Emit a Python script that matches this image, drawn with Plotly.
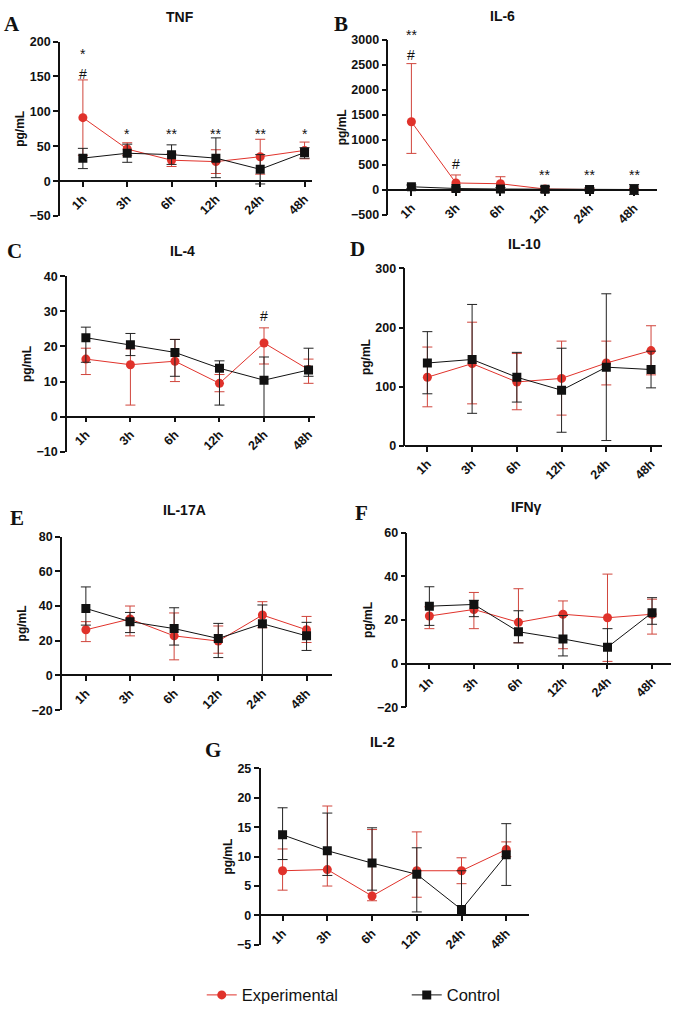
import plotly.graph_objects as go

W, H = 678, 1015
times = ["1h", "3h", "6h", "12h", "24h", "48h"]

# ---- data (mean, upper bound, lower bound of error bars) ----
tnf_exp = [91, 46, 30, 28, 35, 44]
tnf_exp_hi = [145, 55, 39, 45, 60, 56]
tnf_exp_lo = [37, 37, 21, 11, 10, 32]
tnf_ctl = [33, 40, 38, 33, 17, 41]
tnf_ctl_hi = [47, 53, 52, 62, 38, 48]
tnf_ctl_lo = [18, 27, 24, 5, -4, 33]

il6_exp = [1360, 140, 125, 20, 10, 10]
il6_exp_hi = [2520, 300, 265, 60, 30, 30]
il6_exp_lo = [730, -20, -15, -20, -10, -10]
il6_ctl = [65, 30, 20, 15, 10, 10]
il6_ctl_hi = [100, 60, 50, 75, 45, 110]
il6_ctl_lo = [30, 0, -10, -45, -25, -90]

il4_exp = [16.4, 14.8, 15.8, 9.5, 21.0, 13.4]
il4_exp_hi = [19.5, 19.3, 22.0, 12.0, 25.3, 16.4]
il4_exp_lo = [12.0, 3.3, 10.0, 7.1, 15.0, 9.5]
il4_ctl = [22.5, 20.5, 18.3, 13.8, 10.4, 13.3]
il4_ctl_hi = [25.5, 23.7, 22.0, 15.9, 17.0, 19.5]
il4_ctl_lo = [15.5, 17.4, 11.5, 3.3, 0.0, 11.5]

il10_exp = [116, 139, 108, 114, 140, 161]
il10_exp_hi = [167, 209, 156, 177, 177, 203]
il10_exp_lo = [66, 71, 61, 52, 103, 120]
il10_ctl = [140, 146, 116, 94, 133, 129]
il10_ctl_hi = [193, 239, 158, 165, 257, 160]
il10_ctl_lo = [88, 55, 74, 23, 9, 98]

il17_exp = [26.3, 32.5, 22.8, 19.8, 34.8, 26.3]
il17_exp_hi = [31.0, 40.0, 36.0, 28.5, 42.5, 34.0]
il17_exp_lo = [19.5, 22.8, 9.0, 12.8, 27.5, 19.0]
il17_ctl = [38.6, 31.0, 27.0, 21.3, 29.8, 22.8]
il17_ctl_hi = [51.0, 36.3, 39.0, 30.0, 40.6, 30.6]
il17_ctl_lo = [29.0, 24.7, 17.5, 10.3, 0.0, 14.4]

ifn_exp = [21.8, 24.8, 18.9, 22.6, 21.0, 22.6]
ifn_exp_hi = [26.0, 32.6, 34.3, 28.7, 41.0, 29.5]
ifn_exp_lo = [16.0, 16.0, 9.5, 6.8, 1.0, 13.5]
ifn_ctl = [26.3, 27.1, 14.6, 11.3, 7.5, 23.3]
ifn_ctl_hi = [35.2, 29.0, 24.2, 22.0, 16.0, 30.2]
ifn_ctl_lo = [17.5, 21.5, 9.5, 3.5, 0.0, 18.0]

il2_exp = [7.6, 7.8, 3.3, 7.6, 7.6, 11.2]
il2_exp_hi = [11.3, 18.6, 14.6, 14.2, 9.8, 12.5]
il2_exp_lo = [4.3, 5.0, 2.5, 3.1, 5.4, 10.0]
il2_ctl = [13.7, 11.0, 8.9, 7.0, 1.0, 10.3]
il2_ctl_hi = [18.3, 17.4, 14.9, 11.5, 7.6, 15.6]
il2_ctl_lo = [9.5, 6.8, 4.3, 0.6, 0.0, 5.1]

# significance marks: (time, y, text, vertical anchor)
tnf_marks = [("1h", 168, "*", "bottom"), ("1h", 168, "#", "top"), ("3h", 68, "*", "middle"),
             ("6h", 68, "**", "middle"), ("12h", 68, "**", "middle"), ("24h", 68, "**", "middle"),
             ("48h", 68, "*", "middle")]
il6_marks = [("1h", 2890, "**", "bottom"), ("1h", 2890, "#", "top"), ("3h", 515, "#", "middle"),
             ("12h", 300, "**", "middle"), ("24h", 300, "**", "middle"), ("48h", 300, "**", "middle")]
il4_marks = [("24h", 28.7, "#", "middle")]

RED = "#e0322b"
RED_ERR = "#d0453c"
BLK = "#111111"

panels = [
    dict(letter="A", title="TNF", exp=(tnf_exp, tnf_exp_hi, tnf_exp_lo), ctl=(tnf_ctl, tnf_ctl_hi, tnf_ctl_lo),
         marks=tnf_marks, yr=[-50, 200], dt=50, geo=(60, 312, 35, 212, 83, 305),
         tpos=(180, 10), lpos=(12, 17)),
    dict(letter="B", title="IL-6", exp=(il6_exp, il6_exp_hi, il6_exp_lo), ctl=(il6_ctl, il6_ctl_hi, il6_ctl_lo),
         marks=il6_marks, yr=[-500, 3000], dt=500, geo=(389, 658, 33, 211, 412, 635),
         tpos=(503, 9), lpos=(342, 17)),
    dict(letter="C", title="IL-4", exp=(il4_exp, il4_exp_hi, il4_exp_lo), ctl=(il4_ctl, il4_ctl_hi, il4_ctl_lo),
         marks=il4_marks, yr=[-10, 40], dt=10, geo=(67, 315, 273, 451, 86, 309),
         tpos=(183, 247), lpos=(15, 247)),
    dict(letter="D", title="IL-10", exp=(il10_exp, il10_exp_hi, il10_exp_lo), ctl=(il10_ctl, il10_ctl_hi, il10_ctl_lo),
         marks=[], yr=[0, 300], dt=100, geo=(406, 663, 265, 445, 428, 652),
         tpos=(525, 240), lpos=(358, 245)),
    dict(letter="E", title="IL-17A", exp=(il17_exp, il17_exp_hi, il17_exp_lo), ctl=(il17_ctl, il17_ctl_hi, il17_ctl_lo),
         marks=[], yr=[-20, 80], dt=20, geo=(62, 332, 537, 713, 86, 307),
         tpos=(185, 510), lpos=(17, 518)),
    dict(letter="F", title="IFNγ", exp=(ifn_exp, ifn_exp_hi, ifn_exp_lo), ctl=(ifn_ctl, ifn_ctl_hi, ifn_ctl_lo),
         marks=[], yr=[-20, 60], dt=20, geo=(408, 672, 533, 710, 430, 653),
         tpos=(527, 507), lpos=(362, 513)),
    dict(letter="G", title="IL-2", exp=(il2_exp, il2_exp_hi, il2_exp_lo), ctl=(il2_ctl, il2_ctl_hi, il2_ctl_lo),
         marks=[], yr=[-5, 25], dt=5, geo=(261, 530, 772, 951, 283, 507),
         tpos=(383, 745), lpos=(213, 753)),
]

fig = go.Figure()
layout = dict(
    width=W, height=H, margin=dict(l=0, r=0, t=0, b=0),
    paper_bgcolor="white", plot_bgcolor="white",
    font=dict(family="Arial", color="#111111"),
    showlegend=True,
    legend=dict(orientation="h", x=0.298, y=1 - 1002 / H, xanchor="left", yanchor="middle",
                itemwidth=30, entrywidth=160, entrywidthmode="pixels",
                font=dict(family="Arial", size=16.5, color="#111111"), bgcolor="rgba(0,0,0,0)"),
)
annotations = []
AX = dict(family="Arial", size=12.5, color="#111111", weight="bold")

for i, p in enumerate(panels, start=1):
    xs = "" if i == 1 else str(i)
    left, right, top, bottom, x0, x5 = p["geo"]
    sp = (x5 - x0) / 5.0
    xr = [(left - x0) / sp, 5 + (right - x5) / sp]
    ymin, ymax = p["yr"]
    zero_px = top + (ymax - 0) / (ymax - ymin) * (bottom - top)
    dom_y = [1 - bottom / H, 1 - top / H]
    layout["xaxis" + xs] = dict(
        domain=[left / W, right / W], range=xr, type="category",
        anchor="free", position=1 - zero_px / H,
        showline=True, linecolor="#111111", linewidth=1.6,
        ticks="outside", ticklen=5, tickwidth=1.6, tickcolor="#111111",
        tickangle=-45, tickfont=AX, showgrid=False, zeroline=False,
        categoryorder="array", categoryarray=times, fixedrange=True,
    )
    layout["yaxis" + xs] = dict(
        domain=dom_y, range=[ymin, ymax], anchor="x" + xs, dtick=p["dt"],
        showline=True, linecolor="#111111", linewidth=1.6,
        ticks="outside", ticklen=5, tickwidth=1.6, tickcolor="#111111",
        tickfont=AX, showgrid=False, zeroline=False, fixedrange=True,
        title=dict(text="pg/mL", font=dict(family="Arial", size=12, color="#111111", weight="bold"), standoff=2),
    )
    for key, name, color, ecolor, sym, size in [
        ("exp", "Experimental", RED, RED_ERR, "circle", 9),
        ("ctl", "Control", BLK, "#222222", "square", 9),
    ]:
        m, hi, lo = p[key]
        fig.add_trace(go.Scatter(
            x=times, y=m, mode="lines+markers", name=name,
            xaxis="x" + xs, yaxis="y" + xs, showlegend=(i == 1),
            line=dict(color=color, width=1),
            marker=dict(symbol=sym, size=size, color=color),
            error_y=dict(type="data", symmetric=False,
                         array=[h - v for h, v in zip(hi, m)],
                         arrayminus=[v - l for v, l in zip(m, lo)],
                         color=ecolor, thickness=1, width=5),
        ))
    for t, yv, txt, ya in p["marks"]:
        annotations.append(dict(x=t, y=yv, xref="x" + xs, yref="y" + xs, text=txt, showarrow=False,
                                xanchor="center", yanchor=ya,
                                font=dict(family="Arial", size=14, color="#111111")))
    tx, ty = p["tpos"]
    annotations.append(dict(x=tx / W, y=1 - ty / H, xref="paper", yref="paper", text=p["title"],
                            showarrow=False, xanchor="center", yanchor="middle",
                            font=dict(family="Arial", size=14, color="#111111", weight="bold")))
    lx, ly = p["lpos"]
    annotations.append(dict(x=lx / W, y=1 - ly / H, xref="paper", yref="paper", text=p["letter"],
                            showarrow=False, xanchor="center", yanchor="middle",
                            font=dict(family="Liberation Serif", size=21, color="#111111", weight="bold")))

layout["annotations"] = annotations
layout["hovermode"] = False
fig.update_layout(**layout)
fig.write_html(
    "out.html",
    config={"displayModeBar": False, "responsive": False},
    post_script=("document.body.style.margin='0px';"
                 "document.body.style.overflow='hidden';"
                 "document.documentElement.style.overflow='hidden';"),
)
